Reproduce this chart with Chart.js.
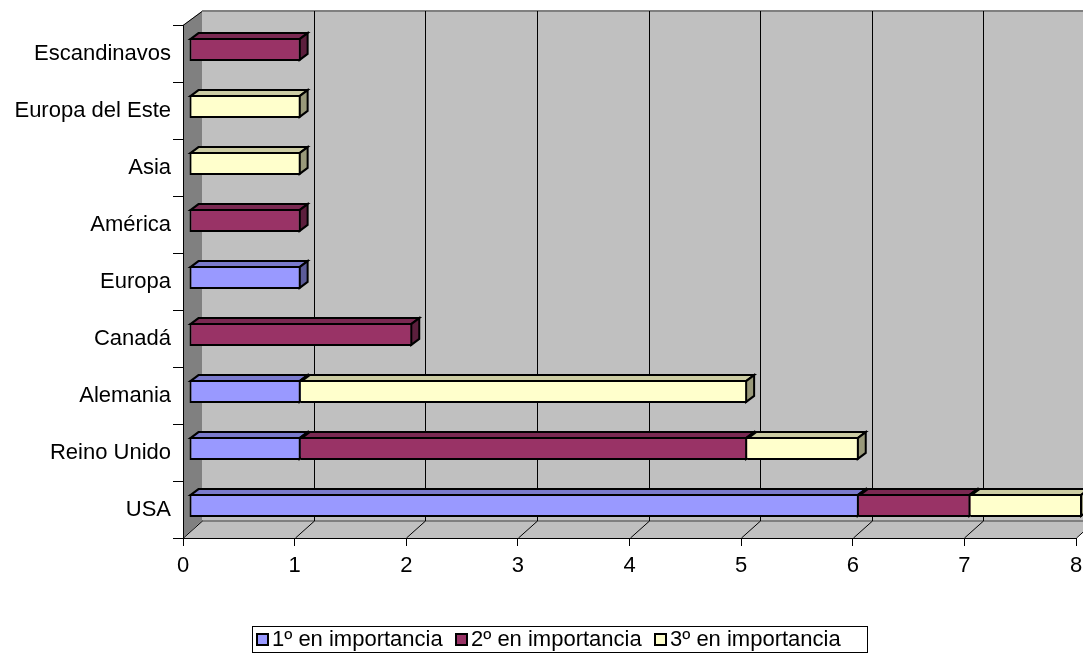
<!DOCTYPE html>
<html>
<head>
<meta charset="utf-8">
<script src="https://cdn.jsdelivr.net/npm/chart.js@4/dist/chart.umd.min.js"></script>
<style>
  html, body { margin: 0; padding: 0; background: #ffffff; }
  #wrap { width: 1083px; height: 655px; }
</style>
</head>
<body>
<div id="wrap"><canvas id="c" width="1083" height="655"></canvas></div>
<script>
// Categories listed from the bottom of the chart upward
const categories = ['USA', 'Reino Unido', 'Alemania', 'Canadá', 'Europa', 'América', 'Asia', 'Europa del Este', 'Escandinavos'];
const seriesNames = ['1º en importancia', '2º en importancia', '3º en importancia'];
const primero = [6, 1, 1, 0, 1, 0, 0, 0, 0];
const segundo = [1, 4, 0, 2, 0, 1, 0, 0, 1];
const tercero = [1, 1, 4, 0, 0, 0, 1, 1, 0];
const xTicks = [0, 1, 2, 3, 4, 5, 6, 7, 8];
const seriesColors = ['#9999FF', '#993366', '#FFFFCC'];

const FONT = 'Liberation Sans, Arial, Helvetica, sans-serif';
Chart.defaults.font.family = FONT;
Chart.defaults.font.size = 22;
Chart.defaults.color = '#000000';

function shade(hex, f) {
  const n = parseInt(hex.slice(1), 16);
  const r = Math.round(((n >> 16) & 255) * f);
  const g = Math.round(((n >> 8) & 255) * f);
  const b = Math.round((n & 255) * f);
  return 'rgb(' + r + ',' + g + ',' + b + ')';
}

// depth of the plot box (back wall relative to the front plane)
const WALL_DX = 19, WALL_DY_TOP = -14, WALL_DY_BOT = -17;
// bar front plane relative to the axis plane, and the bar depth
const BAR_SHIFT_X = 6, BAR_SHIFT_Y = -4;
const BAR_DX = 8, BAR_DY = -6;

function poly(ctx, pts, fill, stroke, lw) {
  ctx.beginPath();
  ctx.moveTo(pts[0][0], pts[0][1]);
  for (let i = 1; i < pts.length; i++) ctx.lineTo(pts[i][0], pts[i][1]);
  ctx.closePath();
  if (fill) { ctx.fillStyle = fill; ctx.fill(); }
  if (stroke) { ctx.strokeStyle = stroke; ctx.lineWidth = lw || 1; ctx.stroke(); }
}

const box3d = {
  id: 'box3d',
  beforeDraw(chart) {
    const ctx = chart.ctx;
    const a = chart.chartArea;
    const xs = chart.scales.x;
    const L = a.left, R = a.right, T = a.top, B = a.bottom;
    const bl = L + WALL_DX, br = R + WALL_DX, bt = T + WALL_DY_TOP, bb = B + WALL_DY_BOT;
    ctx.save();
    // back wall
    poly(ctx, [[bl, bt], [br, bt], [br, bb], [bl, bb]], '#c0c0c0');
    // side wall
    poly(ctx, [[L, T], [bl, bt], [bl, bb], [L, B]], '#808080');
    // floor
    poly(ctx, [[L, B], [bl, bb], [br, bb], [R, B]], '#c0c0c0');
    // wall edges
    ctx.strokeStyle = '#808080';
    ctx.lineWidth = 2;
    ctx.beginPath();
    ctx.moveTo(bl, bt); ctx.lineTo(br, bt);
    ctx.moveTo(bl, bb); ctx.lineTo(br, bb);
    ctx.stroke();
    ctx.strokeStyle = '#000000';
    ctx.lineWidth = 1;
    ctx.beginPath();
    ctx.moveTo(L, T + 0.5); ctx.lineTo(bl, bt + 0.5);
    ctx.stroke();
    // grid lines on the back wall and across the floor
    ctx.strokeStyle = '#000000';
    ctx.lineWidth = 1;
    ctx.beginPath();
    xTicks.forEach(v => {
      const fx = Math.round(xs.getPixelForValue(v)) + 0.5;
      const bx = fx + WALL_DX;
      if (v > 0) {
        ctx.moveTo(bx, bt);
        ctx.lineTo(bx, bb);
      }
      ctx.moveTo(fx, B);
      ctx.lineTo(bx, bb);
    });
    ctx.stroke();
    ctx.restore();
  },
  beforeDatasetsDraw(chart) {
    const ctx = chart.ctx;
    ctx.save();
    ctx.translate(BAR_SHIFT_X, BAR_SHIFT_Y);
    const metas = chart.data.datasets.map((d, i) => chart.getDatasetMeta(i));
    for (let i = 0; i < categories.length; i++) {
      metas.forEach((meta, di) => {
        const val = chart.data.datasets[di].data[i];
        if (!val) return;
        const el = meta.data[i];
        const p = el.getProps(['x', 'y', 'base', 'height'], true);
        const x0 = Math.min(p.x, p.base) + 1, x1 = Math.max(p.x, p.base) - 1;
        const yt = p.y - p.height / 2 + 1, yb = p.y + p.height / 2 - 1;
        const col = seriesColors[di];
        ctx.lineJoin = 'miter';
        // top face
        poly(ctx, [[x0, yt], [x1, yt], [x1 + BAR_DX, yt + BAR_DY], [x0 + BAR_DX, yt + BAR_DY]], shade(col, 0.8), '#000000', 2);
        // right face
        poly(ctx, [[x1, yt], [x1 + BAR_DX, yt + BAR_DY], [x1 + BAR_DX, yb + BAR_DY], [x1, yb]], shade(col, 0.6), '#000000', 2);
      });
    }
    // the library draws the front faces next, in this shifted frame
  },
  afterDatasetsDraw(chart) {
    chart.ctx.restore();
  },
  afterDraw(chart) {
    // boxed legend under the plot
    const ctx = chart.ctx;
    ctx.save();
    ctx.font = '22px ' + FONT;
    ctx.textBaseline = 'middle';
    ctx.textAlign = 'left';
    const boxLeft = 252, boxTop = 626, boxH = 26, boxW = 615, pitch = 199;
    const cy = boxTop + boxH / 2 + 1;
    chart.data.datasets.forEach((ds, di) => {
      const x = boxLeft + 5 + di * pitch;
      ctx.fillStyle = ds.backgroundColor;
      ctx.fillRect(x, cy - 6, 11, 11);
      ctx.strokeStyle = '#000000';
      ctx.lineWidth = 2;
      ctx.strokeRect(x, cy - 6, 11, 11);
      ctx.fillStyle = '#000000';
      ctx.fillText(ds.label, x + 15, cy);
    });
    ctx.strokeStyle = '#000000';
    ctx.lineWidth = 1;
    ctx.strokeRect(boxLeft + 0.5, boxTop + 0.5, boxW, boxH);
    ctx.restore();
  }
};

function skipFor(context) {
  const i = context.dataIndex, d = context.datasetIndex;
  const sets = context.chart.data.datasets;
  for (let k = 0; k < d; k++) if (sets[k].data[i]) return 'start';
  return false;
}

const seriesData = [primero, segundo, tercero];

new Chart(document.getElementById('c'), {
  type: 'bar',
  data: {
    labels: categories,
    datasets: seriesData.map((arr, i) => ({
      label: seriesNames[i],
      data: arr,
      backgroundColor: seriesColors[i],
      borderColor: '#000000',
      borderWidth: 2,
      borderSkipped: skipFor,
      inflateAmount: 0,
      categoryPercentage: 1.0,
      barPercentage: 0.4
    }))
  },
  options: {
    indexAxis: 'y',
    responsive: false,
    animation: false,
    devicePixelRatio: 1,
    layout: { padding: { top: 25, right: 7, bottom: 0, left: 0 } },
    plugins: {
      legend: { display: false },
      tooltip: { enabled: false }
    },
    scales: {
      x: {
        type: 'linear',
        stacked: true,
        min: 0,
        max: 8,
        ticks: { stepSize: 1, padding: 7, font: { size: 22 }, color: '#000000' },
        grid: { drawOnChartArea: false, drawTicks: true, tickLength: 8, color: '#000000', lineWidth: 1 },
        border: { display: true, color: '#000000', width: 1 },
        afterFit(scale) { scale.height = 117; scale.paddingLeft = 0; scale.paddingRight = 0; }
      },
      y: {
        type: 'category',
        stacked: true,
        reverse: true,
        offset: true,
        ticks: { padding: 2, font: { size: 22 }, color: '#000000' },
        grid: { offset: true, drawOnChartArea: false, drawTicks: true, tickLength: 10, color: '#000000', lineWidth: 1 },
        border: { display: true, color: '#000000', width: 1 },
        afterFit(scale) { scale.width = 183; scale.paddingTop = 0; scale.paddingBottom = 0; }
      }
    }
  },
  plugins: [box3d]
});
</script>
</body>
</html>
